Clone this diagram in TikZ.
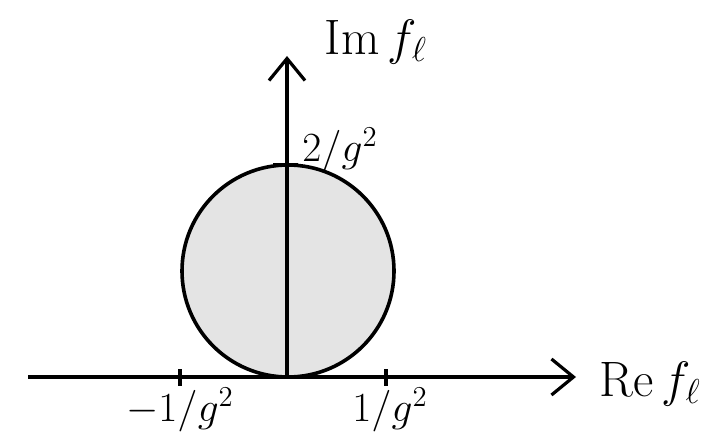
\documentclass[tikz,border=0pt]{standalone}
\usepackage{amsmath,amssymb}
\usetikzlibrary{arrows.meta, positioning}
\definecolor{discgray}{HTML}{E4E4E4}
\tikzset{
    axis/.style={-{Straight Barb[length=11pt, width=18pt, line width=1.6pt]}, line width=1.8pt, draw=black},
    tick/.style={line width=2.2pt, draw=black},
    lab/.style={font=\fontsize{21}{25}\selectfont, inner sep=0pt},
    biglab/.style={font=\fontsize{26}{30}\selectfont, inner sep=0pt}
}
\begin{document}
\begin{tikzpicture}[x=0.5pt, y=-0.5pt]
    \useasboundingbox (0,0) rectangle (722,438);
    \coordinate (O) at (287,377);
    \coordinate (C) at (288,271);
    \coordinate (xl) at (28,377);
    \coordinate (xr) at (576,377);
    \coordinate (yt) at (287,56);
    % disc
    \draw[line width=1.8pt, fill=discgray] (C) circle (106);
    % axes
    \draw[axis] (xl) -- (xr);
    \draw[axis] (O) -- (yt);
    \foreach \x/\nm in {180/tm, 386/tp}
        \draw[tick] (\x,369) -- (\x,386) coordinate (\nm);
    \draw[tick] (273,165) coordinate (ta) -- (298,165);
    % labels
    \node[lab] (lm) at (180,410) {$-1/g^2$};
    \node[lab] (lp) at (390,410) {$1/g^2$};
    \node[lab] (lt) at (340,150) {$2/g^2$};
    \node[biglab] (im) at (376,42) {$\mathrm{Im}\,f_\ell$};
    \node[biglab] (re) at (650,384) {$\mathrm{Re}\,f_\ell$};
\end{tikzpicture}
\end{document}
